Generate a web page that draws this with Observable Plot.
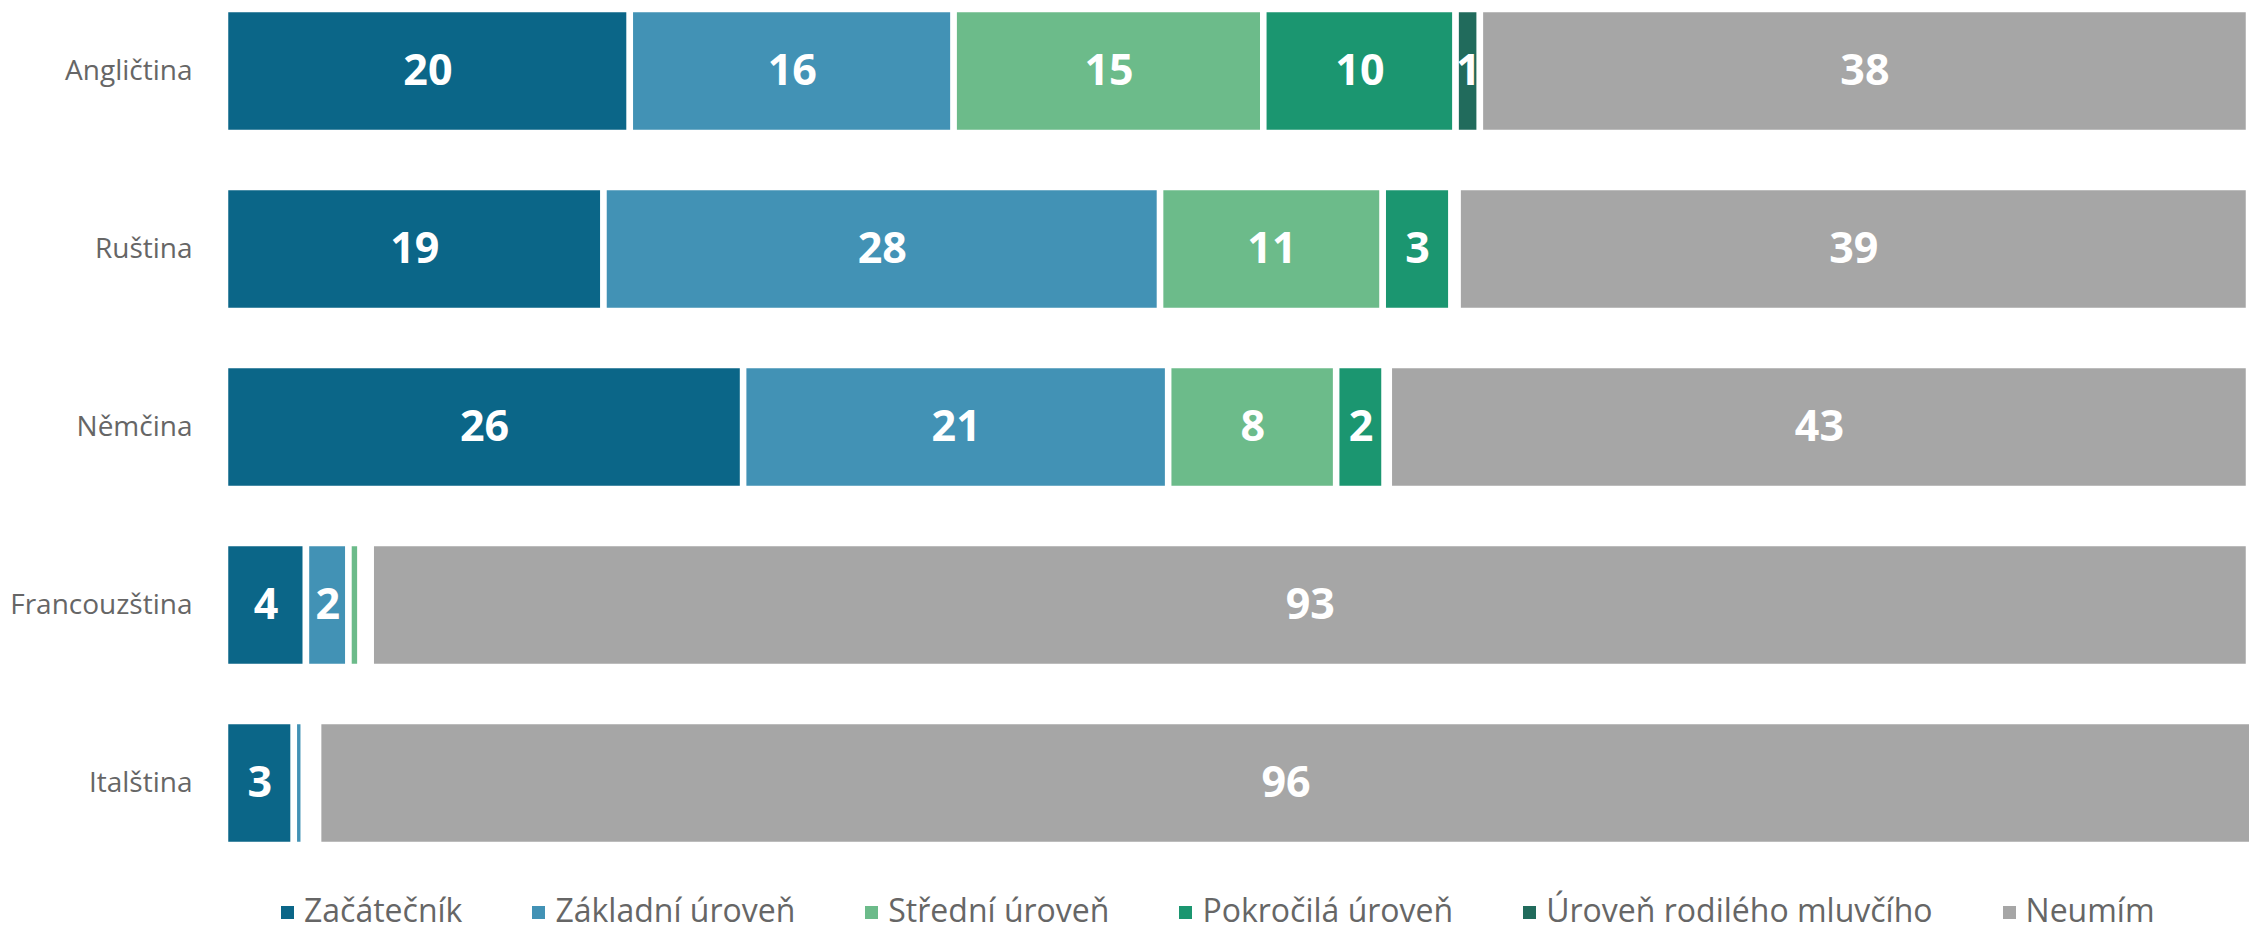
<!DOCTYPE html>
<html>
<head>
<meta charset="utf-8">
<script src="https://cdn.jsdelivr.net/npm/d3@7"></script>
<script src="https://cdn.jsdelivr.net/npm/@observablehq/plot@0.6"></script>
<style>
  html, body { margin: 0; padding: 0; background: #fff; overflow: hidden; }
  #chart svg { display: block; overflow: hidden; max-width: none; }
  #legend {
    display: flex; align-items: center; gap: 70px;
    padding-left: 281px; padding-top: 34px;
    font-family: "Open Sans", sans-serif; font-size: 32px; color: #666;
    line-height: 44px;
  }
  #legend .item { display: flex; align-items: center; white-space: nowrap; }
  #legend .sw { width: 13px; height: 13px; margin-right: 10px; margin-top: 4px; }
</style>
</head>
<body>
<div id="chart"></div>
<div id="legend"></div>
<script>
const languages = ["Angličtina", "Ruština", "Němčina", "Francouzština", "Italština"];
const levels = ["Začátečník", "Základní úroveň", "Střední úroveň", "Pokročilá úroveň", "Úroveň rodilého mluvčího", "Neumím"];
const colors = ["#0b6688", "#4292b5", "#6cbb8a", "#1b9670", "#216b5c", "#a6a6a6"];

const zacatecnik = [20.0, 18.7, 25.6, 4.0, 3.4];
const zakladni   = [16.0, 27.5, 21.0, 2.1, 0.5];
const stredni    = [15.3, 11.0, 8.3, 0.6, 0.3];
const pokrocila  = [9.5, 3.4, 2.4, 0.3, 0.2];
const rodily     = [1.2, 0.3, 0.2, 0.2, 0.2];
const neumim     = [38.0, 39.1, 42.5, 92.8, 95.6];

const series = [zacatecnik, zakladni, stredni, pokrocila, rodily, neumim];

const data = [];
languages.forEach((lang, i) => {
  levels.forEach((lev, j) => {
    data.push({lang, level: lev, value: series[j][i]});
  });
});

const chart = Plot.plot({
  width: 2249,
  height: 854,
  marginLeft: 225,
  marginRight: 0,
  marginTop: 0,
  marginBottom: 0,
  style: {fontFamily: "Open Sans, sans-serif", background: "white"},
  x: {domain: [0, 100], axis: null},
  y: {domain: languages, paddingInner: 0.3006, paddingOuter: 0.049, label: null},
  color: {domain: levels, range: colors},
  marks: [
    Plot.barX(data, Plot.stackX({
      x: "value", y: "lang", fill: "level", z: "level",
      stroke: "white", strokeWidth: 6.5
    })),
    Plot.text(data, Plot.stackX({
      x: "value", y: "lang", z: "level",
      text: d => d.value >= 1 ? String(Math.round(d.value)) : "",
      fill: "white", fontSize: 43, fontWeight: 700
    })),
    Plot.axisY({tickSize: 0, tickPadding: 33, fontSize: 28, color: "#666", label: null})
  ]
});
document.getElementById("chart").appendChild(chart);

const legend = document.getElementById("legend");
levels.forEach((lev, j) => {
  const item = document.createElement("div");
  item.className = "item";
  const sw = document.createElement("span");
  sw.className = "sw";
  sw.style.background = colors[j];
  const t = document.createElement("span");
  t.textContent = lev;
  item.appendChild(sw);
  item.appendChild(t);
  legend.appendChild(item);
});
</script>
</body>
</html>
